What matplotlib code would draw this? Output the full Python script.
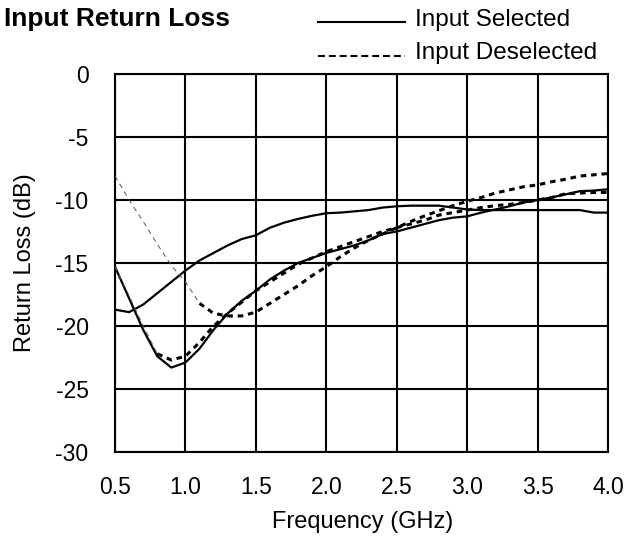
import matplotlib
matplotlib.use("Agg")
import matplotlib.pyplot as plt
from matplotlib.lines import Line2D
import numpy as np

plt.rcParams['font.family'] = ['Liberation Sans', 'DejaVu Sans']
plt.rcParams['axes.unicode_minus'] = False
plt.rcParams['lines.scale_dashes'] = False

freq = [0.5, 0.6, 0.7, 0.8, 0.9, 1.0, 1.1, 1.2, 1.3, 1.4, 1.5, 1.6, 1.7, 1.8,
        1.9, 2.0, 2.1, 2.2, 2.3, 2.4, 2.5, 2.6, 2.7, 2.8, 2.9, 3.0, 3.1, 3.2,
        3.3, 3.4, 3.5, 3.6, 3.7, 3.8, 3.9, 4.0]

selected_a = [-18.7, -18.9, -18.3, -17.4, -16.5, -15.6, -14.8, -14.2, -13.6, -13.1,
              -12.8, -12.2, -11.8, -11.5, -11.25, -11.05, -11.0, -10.9, -10.8, -10.6,
              -10.5, -10.45, -10.45, -10.45, -10.6, -10.75, -10.8, -10.8, -10.8, -10.8,
              -10.8, -10.8, -10.8, -10.8, -11.0, -11.0]

selected_b = [-15.3, -17.8, -20.3, -22.4, -23.3, -22.9, -21.8, -20.3, -19.0, -18.0,
              -17.2, -16.3, -15.6, -15.0, -14.6, -14.2, -13.9, -13.6, -13.2, -12.7,
              -12.5, -12.2, -11.9, -11.6, -11.4, -11.3, -11.0, -10.75, -10.5, -10.2,
              -10.0, -9.8, -9.55, -9.3, -9.25, -9.15]

deselected_a = [-8.1, -10.0, -11.7, -13.5, -15.2, -16.5, -18.2, -19.0, -19.2, -19.2,
                -18.9, -18.2, -17.5, -16.8, -16.0, -15.3, -14.5, -13.8, -13.2, -12.7,
                -12.2, -11.7, -11.25, -10.85, -10.45, -10.1, -9.8, -9.45, -9.2, -8.95,
                -8.8, -8.55, -8.35, -8.1, -8.0, -7.9]

deselected_b = [-15.3, -17.6, -20.0, -22.2, -22.7, -22.4, -21.3, -20.0, -19.0, -18.1,
                -17.2, -16.5, -15.8, -15.1, -14.6, -14.1, -13.7, -13.3, -12.9, -12.5,
                -12.2, -11.9, -11.6, -11.2, -11.0, -10.8, -10.6, -10.45, -10.35, -10.2,
                -10.0, -9.8, -9.5, -9.45, -9.4, -9.4]

# number of leading points drawn as a thin trace
thin_a = 7
thin_b = 4

xticks = [0.5, 1.0, 1.5, 2.0, 2.5, 3.0, 3.5, 4.0]
xtick_labels = ['0.5', '1.0', '1.5', '2.0', '2.5', '3.0', '3.5', '4.0']
yticks = [0, -5, -10, -15, -20, -25, -30]
ytick_labels = ['0', '-5', '-10', '-15', '-20', '-25', '-30']

title = 'Input Return Loss'
xlabel = 'Frequency (GHz)'
ylabel = 'Return Loss (dB)'
legend_labels = ['Input Selected', 'Input Deselected']

W, H = 632, 538
fig = plt.figure(figsize=(W / 100, H / 100), dpi=100)
ax = fig.add_axes([115 / W, 1 - 452 / H, (608 - 115) / W, (452 - 74) / H])

ax.set_xlim(0.5, 4.0)
ax.set_ylim(-30, 0)
ax.set_xticks(xticks)
ax.set_xticklabels(xtick_labels)
ax.set_yticks(yticks)
ax.set_yticklabels(ytick_labels)
ax.tick_params(length=0, labelsize=16.5, pad=19)
ax.tick_params(axis='x', pad=17)
ax.grid(True, color='black', linewidth=1.5)
ax.set_axisbelow(True)
for s in ax.spines.values():
    s.set_linewidth(1.5)
    s.set_color('black')

thick_dash = (0, (4.0, 3.5))
thin_dash = (0, (3.5, 3.0))

ax.plot(freq, selected_a, color='black', linewidth=1.6, zorder=3)
ax.plot(freq, selected_b, color='black', linewidth=1.6, zorder=3)

ax.plot(freq[:thin_a], deselected_a[:thin_a], color='#555555', linewidth=0.7,
        linestyle=thin_dash, zorder=3)
ax.plot(freq[thin_a - 1:], deselected_a[thin_a - 1:], color='black', linewidth=2.2,
        linestyle=thick_dash, zorder=3)
ax.plot(freq[:thin_b], deselected_b[:thin_b], color='#555555', linewidth=0.7,
        linestyle=thin_dash, zorder=3)
ax.plot(freq[thin_b - 1:], deselected_b[thin_b - 1:], color='black', linewidth=2.2,
        linestyle=thick_dash, zorder=3)

fig.text(4 / W, 1 - 26 / H, title, fontsize=19, fontweight='bold', ha='left', va='baseline')
fig.text(363 / W, 1 - 528 / H, xlabel, fontsize=17, ha='center', va='baseline')
fig.text(25.5 / W, 0.5 * ((1 - 74 / H) + (1 - 452 / H)), ylabel, fontsize=17,
         rotation=90, ha='center', va='center')

# legend
fig.add_artist(Line2D([318 / W, 405 / W], [1 - 22 / H] * 2, color='black',
                      linewidth=1.5, transform=fig.transFigure))
fig.add_artist(Line2D([318 / W, 405 / W], [1 - 56 / H] * 2, color='black',
                      linewidth=1.5, linestyle=(0, (5.0, 2.8)), transform=fig.transFigure))
fig.text(415 / W, 1 - 26 / H, legend_labels[0], fontsize=17.5, ha='left', va='baseline')
fig.text(415 / W, 1 - 59.5 / H, legend_labels[1], fontsize=17.5, ha='left', va='baseline')

fig.savefig('out.png', dpi=100)
